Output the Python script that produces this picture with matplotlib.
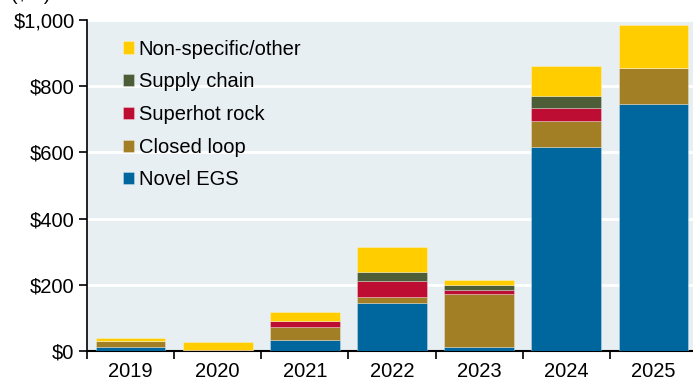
import matplotlib.pyplot as plt
import numpy as np

plt.rcParams['font.family'] = ['Liberation Sans', 'DejaVu Sans']

# Funding by category, $M
years = ['2019', '2020', '2021', '2022', '2023', '2024', '2025']
novel_egs = [12, 0, 34, 144, 13, 617, 745]
closed_loop = [19, 0, 38, 19, 159, 78, 109]
superhot_rock = [0, 3, 18, 49, 13, 40, 0]
supply_chain = [0, 0, 0, 28, 14, 36, 0]
other = [9, 23, 28, 74, 16, 90, 131]

series = [
    ('Novel EGS', novel_egs, '#00679e'),
    ('Closed loop', closed_loop, '#a27f24'),
    ('Superhot rock', superhot_rock, '#be0d33'),
    ('Supply chain', supply_chain, '#4c5d38'),
    ('Non-specific/other', other, '#ffcd00'),
]

fig = plt.figure(figsize=(6.93, 3.84), dpi=100)
ax = fig.add_axes([87 / 693, 1 - 351 / 384, 610 / 693, 331 / 384])
ax.set_facecolor('#e7eff3')

x = np.arange(len(years))
bottom = np.zeros(len(years))
handles = []
for name, vals, col in series:
    vals = np.array(vals, dtype=float)
    b = ax.bar(x, vals, bottom=bottom, width=0.8, color=col, label=name,
               edgecolor=(1, 1, 1, 0.35), linewidth=0.6, zorder=3)
    handles.append(b)
    bottom += vals

ax.set_ylim(0, 1000)
ax.set_xlim(-0.5, len(years) - 0.5)
ax.set_yticks(range(0, 1001, 200))
ax.set_yticklabels([f'${v:,}' for v in range(0, 1001, 200)])
ax.yaxis.grid(True, color='white', linewidth=2, zorder=1)
ax.set_axisbelow(True)

# year labels centred, tick marks between categories
ax.set_xticks(x)
ax.set_xticklabels(years)
ax.tick_params(axis='x', length=0, labelsize=14.5, pad=8)
ax.set_xticks(np.arange(-0.5, len(years)), minor=True)
ax.tick_params(axis='x', which='minor', length=6, width=1.2, color='black')
ax.tick_params(axis='y', length=6, width=1.2, labelsize=14.5, pad=3)

for s in ['top', 'right']:
    ax.spines[s].set_visible(False)
ax.spines['left'].set_linewidth(1.2)
ax.spines['bottom'].set_linewidth(1.5)

leg = ax.legend(handles[::-1], [s[0] for s in series][::-1], loc='upper left',
                bbox_to_anchor=(0.045, 0.965), frameon=False, fontsize=14.5,
                handlelength=0.55, handleheight=0.55, handletextpad=0.25,
                labelspacing=0.68, borderaxespad=0)

fig.text(0.015, 1.035, '($M)', fontsize=14, va='top')

fig.savefig('out.png', dpi=100)
